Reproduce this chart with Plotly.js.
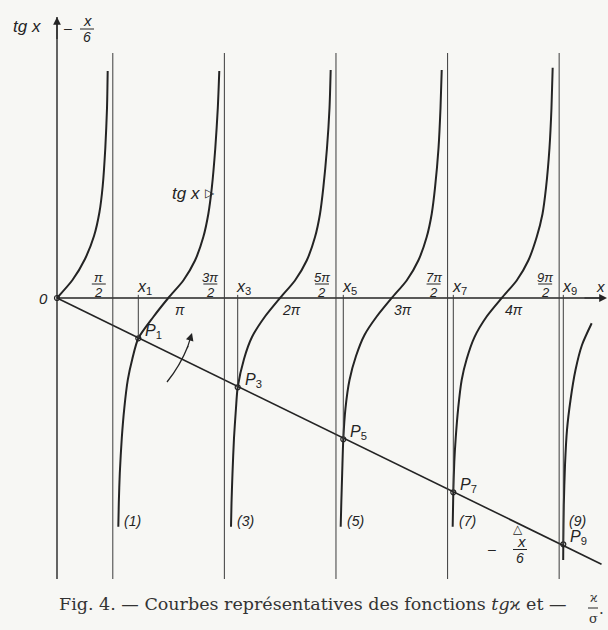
<!DOCTYPE html>
<html>
<head>
<meta charset="utf-8">
<script src="https://cdn.plot.ly/plotly-3.0.1.min.js"></script>
<style>
  html, body { margin: 0; padding: 0; background: #f7f7f4; }
  #chart { width: 608px; height: 630px; }
</style>
</head>
<body>
<div id="chart"></div>
<script>
// ==================== DATA (x in radians, y in units of the figure) ====================

// vertical asymptotes pi/2 ... 9pi/2
const asymptotes = [1.571, 4.712, 7.854, 10.996, 14.137];
const asymptoteNums = ['π', '3π', '5π', '7π', '9π'];

// zeros of tg x
const piMultiples = [3.142, 6.283, 9.425, 12.566];
const piLabels = ['π', '2π', '3π', '4π'];

// roots x1 .. x9 and intersection points P1 .. P9
const rootX = [2.289, 5.087, 8.060, 11.157, 14.254];
const rootY = [-0.386, -0.855, -1.353, -1.861, -2.359];
const rootNames = ['1', '3', '5', '7', '9'];

// straight line -x/6
const lineX = [0, 15.33];
const lineY = [0, -2.55];

// branches of tg x
const branch0X = [0, 0.436, 0.788, 1.042, 1.196, 1.287, 1.360, 1.408, 1.427];
const branch0Y = [0, 0.172, 0.374, 0.594, 0.824, 1.073, 1.437, 1.820, 2.174];

const branch1X = [1.726, 1.740, 1.768, 1.824, 1.895, 1.993, 2.120, 2.289, 2.711, 3.133, 3.556, 3.885, 4.119, 4.260, 4.358, 4.457, 4.527, 4.569];
const branch1Y = [-2.191, -1.964, -1.676, -1.341, -1.054, -0.785, -0.584, -0.386, -0.182, 0, 0.168, 0.359, 0.584, 0.805, 1.054, 1.437, 1.820, 2.174];

const branch2X = [4.899, 4.913, 4.941, 4.983, 5.039, 5.087, 5.265, 5.490, 5.856, 6.278, 6.700, 7.030, 7.264, 7.404, 7.497, 7.601, 7.672, 7.705];
const branch2Y = [-2.191, -1.964, -1.676, -1.341, -1.054, -0.855, -0.584, -0.374, -0.177, 0, 0.168, 0.359, 0.584, 0.805, 1.054, 1.437, 1.820, 2.184];

const branch3X = [7.987, 8.004, 8.029, 8.060, 8.122, 8.235, 8.418, 8.657, 9.001, 9.423, 9.845, 10.172, 10.408, 10.549, 10.642, 10.741, 10.797, 10.831];
const branch3Y = [-2.191, -1.964, -1.676, -1.353, -1.054, -0.785, -0.556, -0.354, -0.177, 0, 0.168, 0.359, 0.584, 0.805, 1.054, 1.437, 1.820, 2.184];

const branch4X = [11.140, 11.157, 11.185, 11.225, 11.295, 11.393, 11.534, 11.754, 12.097, 12.520, 12.942, 13.269, 13.505, 13.668, 13.767, 13.865, 13.921, 13.955];
const branch4Y = [-2.191, -1.861, -1.571, -1.341, -1.054, -0.785, -0.584, -0.374, -0.177, 0, 0.168, 0.359, 0.584, 0.805, 1.054, 1.437, 1.820, 2.205];

const branch5X = [15.053, 14.780, 14.597, 14.457, 14.358, 14.302, 14.268, 14.254, 14.251];
const branch5Y = [-0.242, -0.450, -0.690, -0.977, -1.264, -1.600, -1.983, -2.359, -2.510];

// ==================== LAYOUT HELPERS ====================

// page pixel -> data (origin at 57,298)
const X0 = 57, SX = 35.52, Y0 = 298, SY = 104.4;
const px2x = p => (p - X0) / SX;
const px2y = p => (Y0 - p) / SY;

const INK = '#242424';
const LINE2 = '#3c3c3c';
const LABEL_FONT = 'Liberation Sans, DejaVu Sans, sans-serif';
const SERIF = 'DejaVu Serif, Liberation Serif, serif';

const Y_TOP = px2y(17);
const Y_BOTTOM = px2y(579);
const ASYM_TOP = px2y(53);

function lbl(x, y, text, size, extra) {
  return Object.assign({
    x: x, y: y, xref: 'x', yref: 'y', text: text, showarrow: false,
    font: { family: LABEL_FONT, size: size || 13, color: INK },
    xanchor: 'center', yanchor: 'middle'
  }, extra || {});
}

function bar(x, y, xs, ys, half) {
  return {
    type: 'line', xref: 'x', yref: 'y',
    xsizemode: 'pixel', xanchor: x, x0: xs - half, x1: xs + half,
    ysizemode: 'pixel', yanchor: y, y0: ys, y1: ys,
    line: { color: INK, width: 1 }
  };
}

// arrow with an (almost) empty text box so that short arrows are still drawn
function arrowTo(x, y, ax, ay) {
  return { x: x, y: y, ax: ax, ay: ay, xref: 'x', yref: 'y', axref: 'x', ayref: 'y',
    showarrow: true, arrowhead: 2, arrowsize: 1.3, arrowwidth: 1.2, arrowcolor: INK,
    text: ' ', font: { size: 1 }, borderpad: 0, standoff: 0 };
}

// ==================== TRACES ====================

const branches = [
  [branch0X, branch0Y], [branch1X, branch1Y], [branch2X, branch2Y],
  [branch3X, branch3Y], [branch4X, branch4Y], [branch5X, branch5Y]
];

const traces = branches.map(b => ({
  type: 'scatter', mode: 'lines', x: b[0], y: b[1],
  line: { color: INK, width: 2, shape: 'spline', smoothing: 0.7 },
  hoverinfo: 'skip'
}));

traces.push({
  type: 'scatter', mode: 'lines', x: lineX, y: lineY,
  line: { color: INK, width: 1.6 }, hoverinfo: 'skip'
});

traces.push({
  type: 'scatter', mode: 'markers', x: [0].concat(rootX), y: [0].concat(rootY),
  marker: { symbol: 'circle-open', size: 5, color: INK, line: { width: 1.2, color: INK } },
  hoverinfo: 'skip'
});

// ==================== SHAPES ====================

const shapes = [];

// axes
shapes.push({ type: 'line', x0: 0, x1: 0, y0: Y_BOTTOM, y1: Y_TOP, line: { color: INK, width: 1.4 } });
shapes.push({ type: 'line', x0: 0, x1: px2x(604), y0: 0, y1: 0, line: { color: INK, width: 1.4 } });

// asymptotes
asymptotes.forEach(a => {
  shapes.push({ type: 'line', x0: a, x1: a, y0: Y_BOTTOM, y1: ASYM_TOP, line: { color: LINE2, width: 1 } });
});

// roots x_k down to P_k
rootX.forEach((r, i) => {
  shapes.push({ type: 'line', x0: r, x1: r, y0: 0.03, y1: rootY[i], line: { color: LINE2, width: 1 } });
});

// fraction bars for pi/2 labels
asymptotes.forEach(a => shapes.push(bar(a, 0, -14, 14, 7)));

// ==================== ANNOTATIONS ====================

const ann = [];

// axis arrows and name
ann.push(arrowTo(0, Y_TOP, 0, px2y(40)));
ann.push(arrowTo(px2x(607), 0, px2x(584), 0));
ann.push(lbl(px2x(607), 0, '<i>x</i>', 15, { xanchor: 'right', yshift: 12 }));

// origin
ann.push(lbl(0, 0, '<i>0</i>', 15, { xshift: -14 }));

// pi/2 fractions
asymptotes.forEach((a, i) => {
  ann.push(lbl(a, 0, '<i>' + asymptoteNums[i] + '</i>', 13, { xshift: -14, yshift: 21 }));
  ann.push(lbl(a, 0, '<i>2</i>', 13, { xshift: -14, yshift: 6 }));
});

// multiples of pi under the axis
piMultiples.forEach((p, i) => {
  ann.push(lbl(p, 0, '<i>' + piLabels[i] + '</i>', 14, { xshift: 11, yshift: -12 }));
});

// x_k labels, P_k labels, curve numbers
rootX.forEach((r, i) => {
  ann.push(lbl(r, 0, '<i>x</i><sub>' + rootNames[i] + '</sub>', 16, { xshift: 6, yshift: 11 }));
  ann.push(lbl(r, rootY[i], '<i>P</i><sub>' + rootNames[i] + '</sub>', 16, { xanchor: 'left', xshift: 5, yshift: 7 }));
});
const lowEnds = [branch1X[0], branch2X[0], branch3X[0], branch4X[0], branch5X[branch5X.length - 1]];
lowEnds.forEach((e, i) => {
  ann.push(lbl(e, px2y(521), '<i>(' + rootNames[i] + ')</i>', 14, { xanchor: 'left', xshift: 4 }));
});

// top-left title: tg x  ^  - x/6
ann.push(lbl(px2x(27), px2y(26), '<i>tg x</i>', 17));
ann.push(lbl(px2x(68), px2y(28), '–', 14));
ann.push(lbl(px2x(87), px2y(20), '<i>x</i>', 15));
ann.push(lbl(px2x(87), px2y(37), '<i>6</i>', 14));
shapes.push(bar(px2x(87), px2y(29), 0, 0, 7));

// tg x pointer on the second branch
ann.push(lbl(px2x(186), px2y(193), '<i>tg x</i>', 17));
ann.push(lbl(px2x(210), px2y(193), '▷', 12, { font: { family: 'DejaVu Sans', size: 12, color: INK } }));

// -x/6 label near the end of the line
ann.push(lbl(px2x(492), px2y(549), '–', 14));
ann.push(lbl(px2x(521), px2y(541), '<i>x</i>', 15));
ann.push(lbl(px2x(520), px2y(558), '<i>6</i>', 14));
shapes.push(bar(px2x(520), px2y(549.5), 0, 0, 7));
ann.push(lbl(px2x(518), px2y(529), '△', 12, { font: { family: 'DejaVu Sans', size: 12, color: INK } }));

// rotation arrow between P1 and P3
shapes.push({
  type: 'path', xref: 'x', yref: 'y',
  path: 'M ' + px2x(167) + ',' + px2y(382) + ' Q ' + px2x(180) + ',' + px2y(366) + ' ' + px2x(188) + ',' + px2y(346),
  line: { color: INK, width: 1.3 }
});
ann.push(arrowTo(px2x(192), px2y(333), px2x(187), px2y(349)));

// caption
const CAP = { family: SERIF, size: 17.5, color: '#333' };
ann.push(lbl(px2x(57), px2y(604), 'Fig. 4. — Courbes représentatives des fonctions <i>tg</i>ϰ et —', 17.5,
  { xanchor: 'left', font: CAP }));
ann.push(lbl(px2x(593), px2y(598), 'ϰ', 12, { font: { family: SERIF, size: 12, color: '#333' } }));
ann.push(lbl(px2x(593), px2y(618), 'σ', 13, { font: { family: SERIF, size: 13, color: '#333' } }));
ann.push(lbl(px2x(601), px2y(609), '.', 15, { font: { family: SERIF, size: 15, color: '#333' } }));
shapes.push(bar(px2x(593), px2y(608), 0, 0, 5));

// ==================== PLOT ====================

const layout = {
  width: 608, height: 630,
  margin: { l: 0, r: 0, t: 0, b: 0, pad: 0 },
  paper_bgcolor: '#f7f7f4', plot_bgcolor: '#f7f7f4',
  showlegend: false,
  xaxis: { range: [px2x(0), px2x(608)], visible: false, fixedrange: true },
  yaxis: { range: [px2y(630), px2y(0)], visible: false, fixedrange: true },
  shapes: shapes,
  annotations: ann
};

Plotly.newPlot('chart', traces, layout, { staticPlot: true });
</script>
</body>
</html>
